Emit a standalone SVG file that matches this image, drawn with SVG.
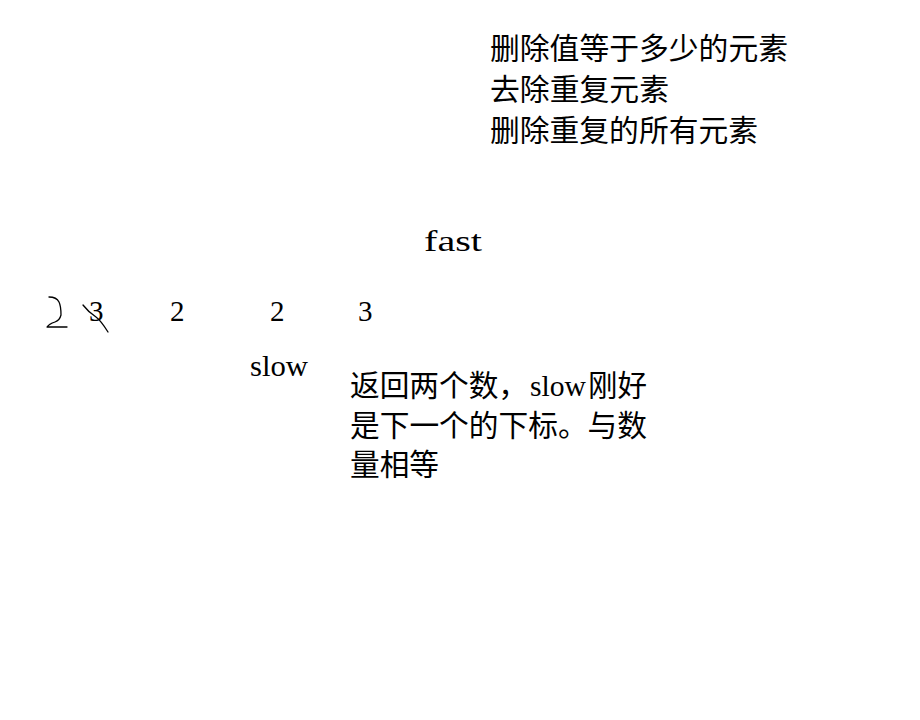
<svg xmlns="http://www.w3.org/2000/svg" width="920" height="720" viewBox="0 0 920 720">
<style>
  .cjk { font-family: "Liberation Serif", "Noto Sans CJK SC", serif; font-size: 30px; fill: #000; }
  .lat { font-family: "Liberation Serif", "Noto Sans CJK SC", serif; font-size: 29px; fill: #000; }
  .ink { fill: none; stroke: #000; stroke-width: 1.3; stroke-linecap: round; stroke-linejoin: round; }
</style>
<rect width="920" height="720" fill="#fff"/>
<g id="title-notes">
  <text class="cjk" x="490" y="59" textLength="298" lengthAdjust="spacingAndGlyphs">删除值等于多少的元素</text>
  <text class="cjk" x="490" y="100" textLength="179" lengthAdjust="spacingAndGlyphs">去除重复元素</text>
  <text class="cjk" x="490" y="141" textLength="268" lengthAdjust="spacingAndGlyphs">删除重复的所有元素</text>
</g>
<g id="fast-label">
  <text class="lat" x="424" y="251" textLength="58" lengthAdjust="spacingAndGlyphs">fast</text>
</g>
<g id="array">
  <text class="lat" x="89" y="321">3</text>
  <text class="lat" x="170" y="321">2</text>
  <text class="lat" x="270" y="321">2</text>
  <text class="lat" x="358" y="321">3</text>
</g>
<g id="handwriting">
  <path class="ink" d="M49,297 C53,297 57,298 59,302 C61,306 61,311 61,315 C60,319 58,321 55,322 C52,323 49,324 47,327 L67,327"/>
  <path class="ink" d="M83,305 C86,309 90,313 96,317 C100,320 103,324 108,332"/>
</g>
<g id="slow-label">
  <text class="lat" x="250" y="376" textLength="58" lengthAdjust="spacingAndGlyphs">slow</text>
</g>
<g id="explanation">
  <text class="cjk" x="350" y="396" textLength="178" lengthAdjust="spacingAndGlyphs">返回两个数，</text>
  <text class="lat" x="530" y="396" textLength="56" lengthAdjust="spacingAndGlyphs">slow</text>
  <text class="cjk" x="588" y="396" textLength="59" lengthAdjust="spacingAndGlyphs">刚好</text>
  <text class="cjk" x="350" y="436" textLength="297" lengthAdjust="spacingAndGlyphs">是下一个的下标。与数</text>
  <text class="cjk" x="350" y="475" textLength="89" lengthAdjust="spacingAndGlyphs">量相等</text>
</g>
</svg>
